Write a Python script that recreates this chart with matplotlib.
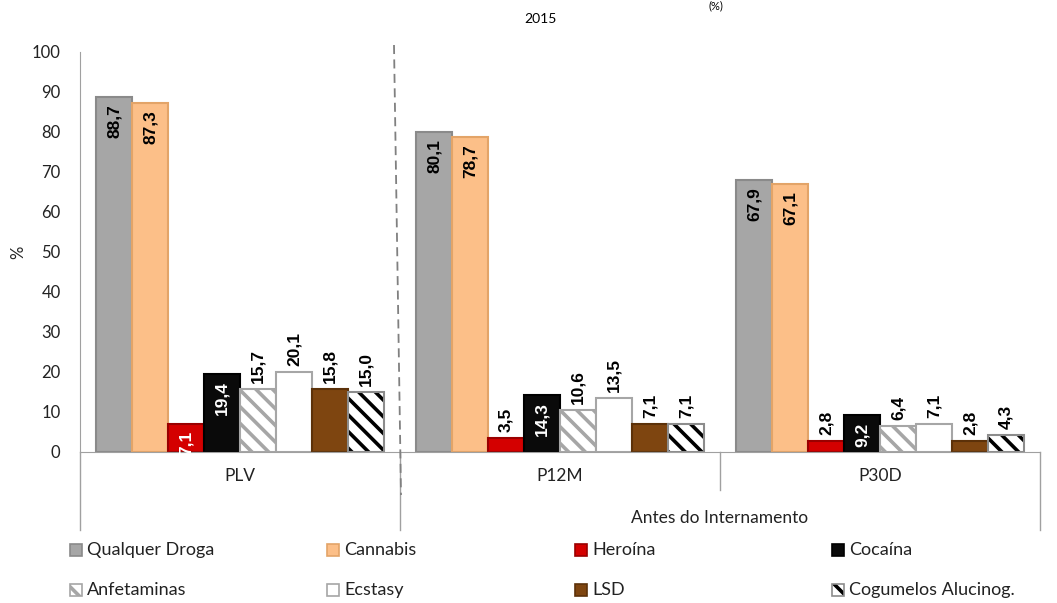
import numpy as np
import matplotlib
matplotlib.use("Agg")
from matplotlib import pyplot as plt
from matplotlib.patches import Rectangle
from matplotlib.lines import Line2D

# data
groups = ['PLV', 'P12M', 'P30D']
series = ['Qualquer Droga', 'Cannabis', 'Heroína', 'Cocaína',
          'Anfetaminas', 'Ecstasy', 'LSD', 'Cogumelos Alucinog.']
qualquer = [88.7, 80.1, 67.9]
cannabis = [87.3, 78.7, 67.1]
heroina = [7.1, 3.5, 2.8]
cocaina = [19.4, 14.3, 9.2]
anfetaminas = [15.7, 10.6, 6.4]
ecstasy = [20.1, 13.5, 7.1]
lsd = [15.8, 7.1, 2.8]
cogumelos = [15.0, 7.1, 4.3]
yticks = [0, 10, 20, 30, 40, 50, 60, 70, 80, 90, 100]
supergroup = 'Antes do Internamento'
subtitle = '2015'

values = [qualquer, cannabis, heroina, cocaina, anfetaminas, ecstasy, lsd, cogumelos]

# styles: face, edge, hatch, hatch colour, label colour when inside
styles = [
    ('#A6A6A6', '#8A8A8A', None, None, 'black'),
    ('#FCBF88', '#E3A468', None, None, 'black'),
    ('#D40000', '#9A0000', None, None, 'white'),
    ('#0A0A0A', '#000000', None, None, 'white'),
    ('white', '#A6A6A6', '\\\\', '#A6A6A6', 'black'),
    ('white', '#A6A6A6', None, None, 'black'),
    ('#7E4510', '#5C3109', None, None, 'white'),
    ('white', '#8C8C8C', '\\\\', '#000000', 'black'),
]
inside_series = [0, 1, 2, 3]

plt.rcParams['font.family'] = ['Lato', 'DejaVu Sans']
plt.rcParams['hatch.linewidth'] = 2.6

fig = plt.figure(figsize=(10.57, 6.03), dpi=100)
ax = fig.add_axes([80/1057, 1-452/603, 960/1057, 400/603])

ind = np.arange(len(groups))
width = 0.9 / len(series)

for k, vals in enumerate(values):
    face, edge, hatch, hcol, lcol = styles[k]
    xs = ind - 0.45 + width*(k + 0.5)
    if hatch:
        ax.bar(xs, vals, width, color=face, edgecolor=hcol, hatch=hatch, linewidth=0)
        ax.bar(xs, vals, width, fill=False, edgecolor=edge, linewidth=1.5)
    else:
        ax.bar(xs, vals, width, color=face, edgecolor=edge, linewidth=1.5)
    for x, v in zip(xs, vals):
        txt = ('%.1f' % v).replace('.', ',')
        if k in inside_series and v >= 7:
            ax.text(x, v - 1.8, txt, rotation=90, ha='center', va='top',
                    fontsize=12.5, fontweight='bold', color=lcol, family='Liberation Sans')
        else:
            ax.text(x, v + 1.5, txt, rotation=90, ha='center', va='bottom',
                    fontsize=12.5, fontweight='bold', color='black', family='Liberation Sans')

ax.set_xlim(-0.5, 2.5)
ax.set_ylim(0, 100)
ax.set_yticks(yticks)
ax.tick_params(axis='y', length=0, pad=14, labelsize=12, labelcolor='#222222')
ax.set_xticks([])
for s in ['top', 'right']:
    ax.spines[s].set_visible(False)
ax.spines['left'].set_color('#A0A0A0')
ax.spines['bottom'].set_color('#A0A0A0')
fig.text(18/1057, 1-252/603, '%', rotation=90, ha='center', va='center', fontsize=12, color='#222222')

# two-level category axis
tr = ax.get_xaxis_transform()
for x, y0 in [(-0.5, -0.195), (0.5, -0.195), (1.5, -0.095), (2.5, -0.195)]:
    ax.plot([x, x], [0, y0], color='#A0A0A0', lw=1, transform=tr, clip_on=False)
for i, g in enumerate(groups):
    ax.text(i, -0.06, g, transform=tr, ha='center', va='center', fontsize=12.5, color='#222222')
ax.text(1.5, -0.165, supergroup, transform=tr, ha='center', va='center', fontsize=12.5, color='#222222')

# dashed separator
fig.add_artist(Line2D([394/1057, 401/1057], [1-45/603, 1-495/603], color='#808080',
                      lw=1.3, linestyle=(0, (5, 3))))

fig.text(540/1057, 1-19/603, subtitle, ha='center', va='center', fontsize=10)
fig.text(716/1057, 1.0, '(%)', ha='center', va='top', fontsize=8)

# legend, drawn entry by entry
col_x = [70, 327, 575, 832]
row_y = [550, 590]
for k, name in enumerate(series):
    face, edge, hatch, hcol, lcol = styles[k]
    cx = col_x[k % 4]
    cy = row_y[k // 4]
    x0 = cx/1057
    y0 = 1-(cy+6)/603
    w = 12/1057
    h = 12/603
    if hatch:
        fig.add_artist(Rectangle((x0, y0), w, h, transform=fig.transFigure, facecolor=face,
                                 edgecolor=hcol, hatch=hatch, linewidth=0))
        fig.add_artist(Rectangle((x0, y0), w, h, transform=fig.transFigure, fill=False,
                                 edgecolor=edge, linewidth=1.2))
    else:
        fig.add_artist(Rectangle((x0, y0), w, h, transform=fig.transFigure, facecolor=face,
                                 edgecolor=edge, linewidth=1.2))
    fig.text((cx+17)/1057, 1-cy/603, name, ha='left', va='center', fontsize=13, color='#222222')

fig.savefig('out.png', dpi=100)
